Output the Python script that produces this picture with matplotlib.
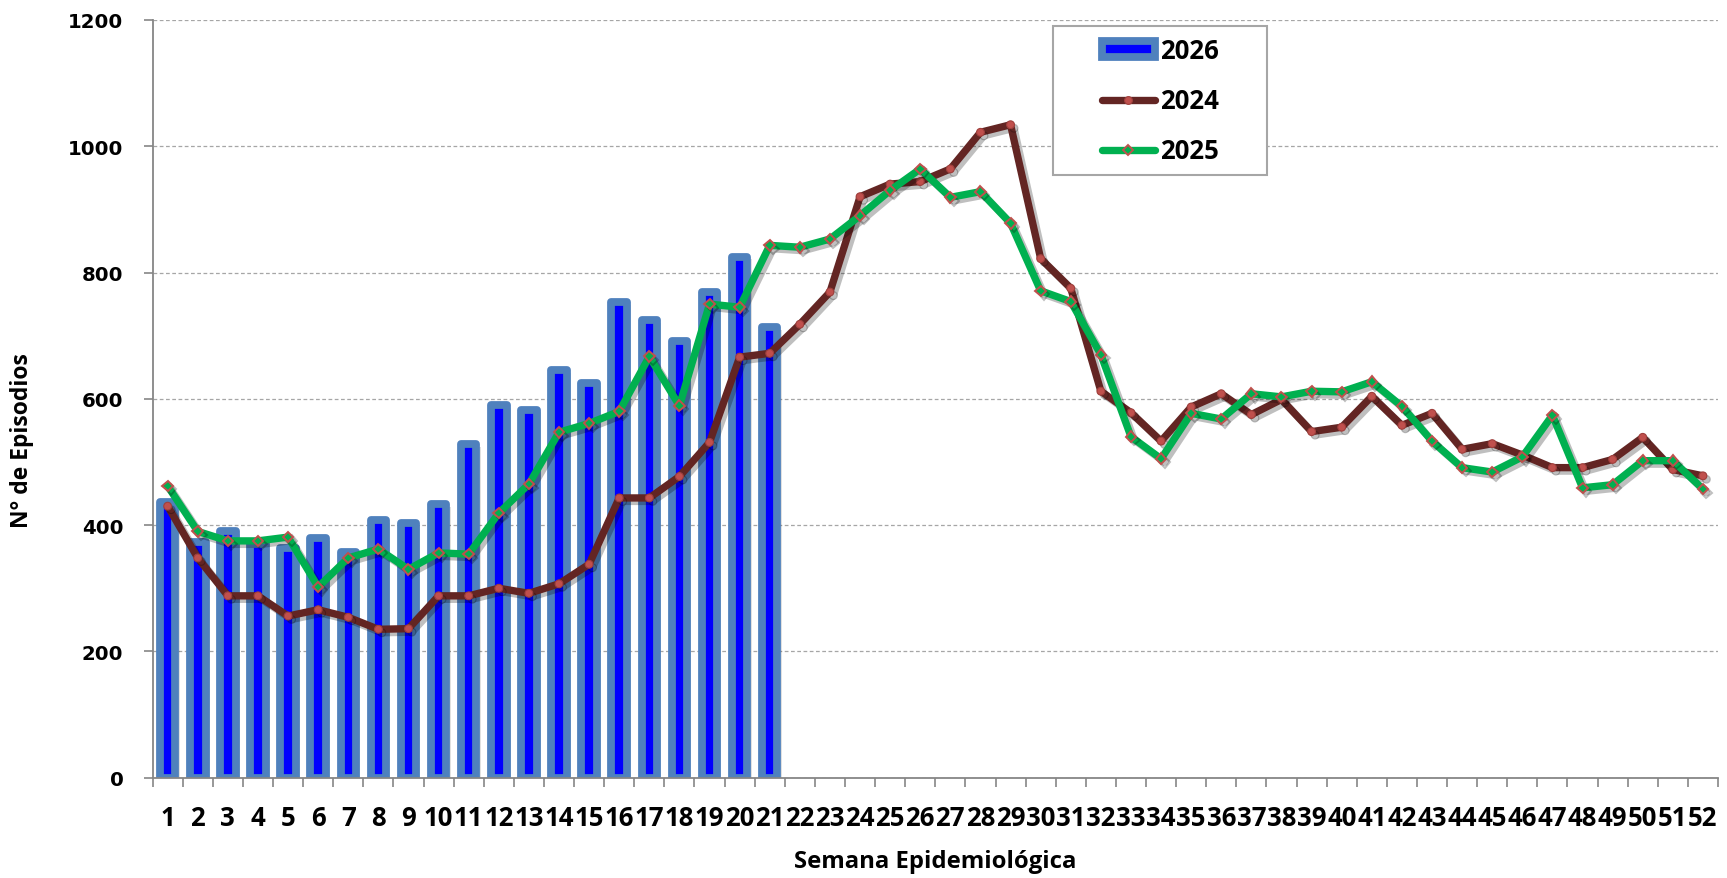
import matplotlib
matplotlib.use("Agg")
import matplotlib.pyplot as plt
import matplotlib.patheffects as pe
from matplotlib.patches import Rectangle
from matplotlib.lines import Line2D
import numpy as np

weeks = list(range(1, 53))
week_labels = [str(w) for w in weeks]

y2026 = [437, 373, 390, 370, 364, 379, 357, 408, 404, 433, 528, 590, 583, 645,
         625, 753, 725, 691, 769, 825, 714]
y2024 = [430, 348, 288, 288, 256, 266, 254, 235, 236, 288,
         288, 300, 292, 307, 338, 443, 443, 477, 531, 666, 672,
         718, 769, 920, 940, 944, 964, 1022, 1034, 822, 775,
         612, 578, 533, 587, 608, 575, 599, 548, 555, 604, 558, 577, 520, 529,
         511, 491, 491, 504, 539, 488, 478]
y2025 = [462, 390, 375, 375, 381, 302, 348, 362, 330, 356,
         354, 419, 465, 547, 561, 580, 667, 589, 750, 745, 843,
         840, 853, 890, 930, 964, 919, 928, 878, 771, 754,
         670, 540, 505, 577, 568, 608, 603, 612, 611, 627, 588, 533, 491, 484,
         508, 574, 459, 464, 502, 502, 457]

series_names = ["2026", "2024", "2025"]
yticks = [0, 200, 400, 600, 800, 1000, 1200]

FONT = "Open Sans"
LW = 5.3

W, H = 1727, 879
fig = plt.figure(figsize=(W / 100, H / 100), dpi=100)
left, right = 152.6 / W, 1718 / W
bottom, top = 1 - 778.7 / H, 1 - 20.9 / H
ax = fig.add_axes([left, bottom, right - left, top - bottom])

# Bars 2026
x26 = np.arange(1, len(y2026) + 1)
bars = ax.bar(x26, y2026, width=0.515, color="#0000FF", edgecolor="#4F81BD",
              linewidth=5.6, zorder=2)
for b in bars:
    b.set_joinstyle("round")
    b.set_path_effects([pe.SimplePatchShadow(offset=(3, -2), shadow_rgbFace="#000000",
                                             alpha=0.12), pe.Normal()])

shadow = [pe.SimpleLineShadow(offset=(2.5, -2.5), shadow_color="k", alpha=0.25), pe.Normal()]
l24, = ax.plot(weeks, y2024, color="#632523", lw=LW, marker="o", ms=5.6,
               mfc="#C0504D", mec="#A0403D", mew=0.8, zorder=3,
               solid_joinstyle="round", solid_capstyle="round", path_effects=shadow)
l25, = ax.plot(weeks, y2025, color="#00B050", lw=LW, marker="D", ms=5.4,
               mfc="#00B050", mec="#C0504D", mew=1.4, zorder=4,
               solid_joinstyle="round", solid_capstyle="round", path_effects=shadow)

ax.set_xlim(0.5, 52.5)
ax.set_ylim(0, 1200)
ax.set_yticks(yticks)
ax.set_yticklabels([str(v) for v in yticks], fontfamily="DejaVu Sans",
                   fontweight="bold", fontsize=14.2)
ax.set_xticks(weeks)
ax.set_xticklabels(week_labels, fontfamily=FONT, fontweight="bold", fontsize=18.5)
ax.set_xticks(np.arange(0.5, 53.0, 1.0), minor=True)
ax.tick_params(axis="x", which="major", length=0, pad=19)
ax.tick_params(axis="x", which="minor", length=6.5, width=1.2, color="#868686", direction="out")
ax.tick_params(axis="y", which="major", length=6.5, width=1.2, color="#868686",
               direction="out", pad=14.5)

ax.grid(axis="y", which="major", color="#A6A6A6", linestyle=(0, (3, 2)), lw=0.9, zorder=0)
ax.set_axisbelow(True)
for s in ["top", "right"]:
    ax.spines[s].set_visible(False)
for s in ["left", "bottom"]:
    ax.spines[s].set_color("#868686")
    ax.spines[s].set_linewidth(1.3)

fig.text(22.5 / W, 1 - 441 / H, "N° de Episodios", rotation=90, ha="center", va="center",
         fontfamily=FONT, fontweight="bold", fontsize=16.5)
fig.text(935 / W, 1 - 868 / H, "Semana Epidemiológica", ha="center", va="baseline",
         fontfamily=FONT, fontweight="bold", fontsize=17.2)

# Legend
h26 = Rectangle((0, 0), 1, 1, facecolor="#0000FF", edgecolor="#4F81BD", linewidth=5.6)
h26.set_joinstyle("round")
h24 = Line2D([], [], color="#632523", lw=LW, marker="o", ms=5.6, mfc="#C0504D",
             mec="#A0403D", mew=0.8, solid_capstyle="round")
h25 = Line2D([], [], color="#00B050", lw=LW, marker="D", ms=5.4, mfc="#00B050",
             mec="#C0504D", mew=1.4, solid_capstyle="round")
leg = fig.legend([h26, h24, h25], series_names, loc="center left",
                 bbox_to_anchor=(1102 / W, 1 - 101.5 / H), frameon=False,
                 prop={"family": FONT, "weight": "bold", "size": 18.5},
                 borderpad=0, borderaxespad=0, handlelength=2.05, handleheight=0.55,
                 handletextpad=0.2, labelspacing=0.9, numpoints=1)
fig.add_artist(Rectangle((1053 / W, 1 - 176 / H), 214 / W, 149 / H,
                         transform=fig.transFigure, facecolor="white",
                         edgecolor="#A6A6A6", linewidth=1.5, zorder=0.5))
leg.set_zorder(5)

fig.savefig("out.png", dpi=100)
